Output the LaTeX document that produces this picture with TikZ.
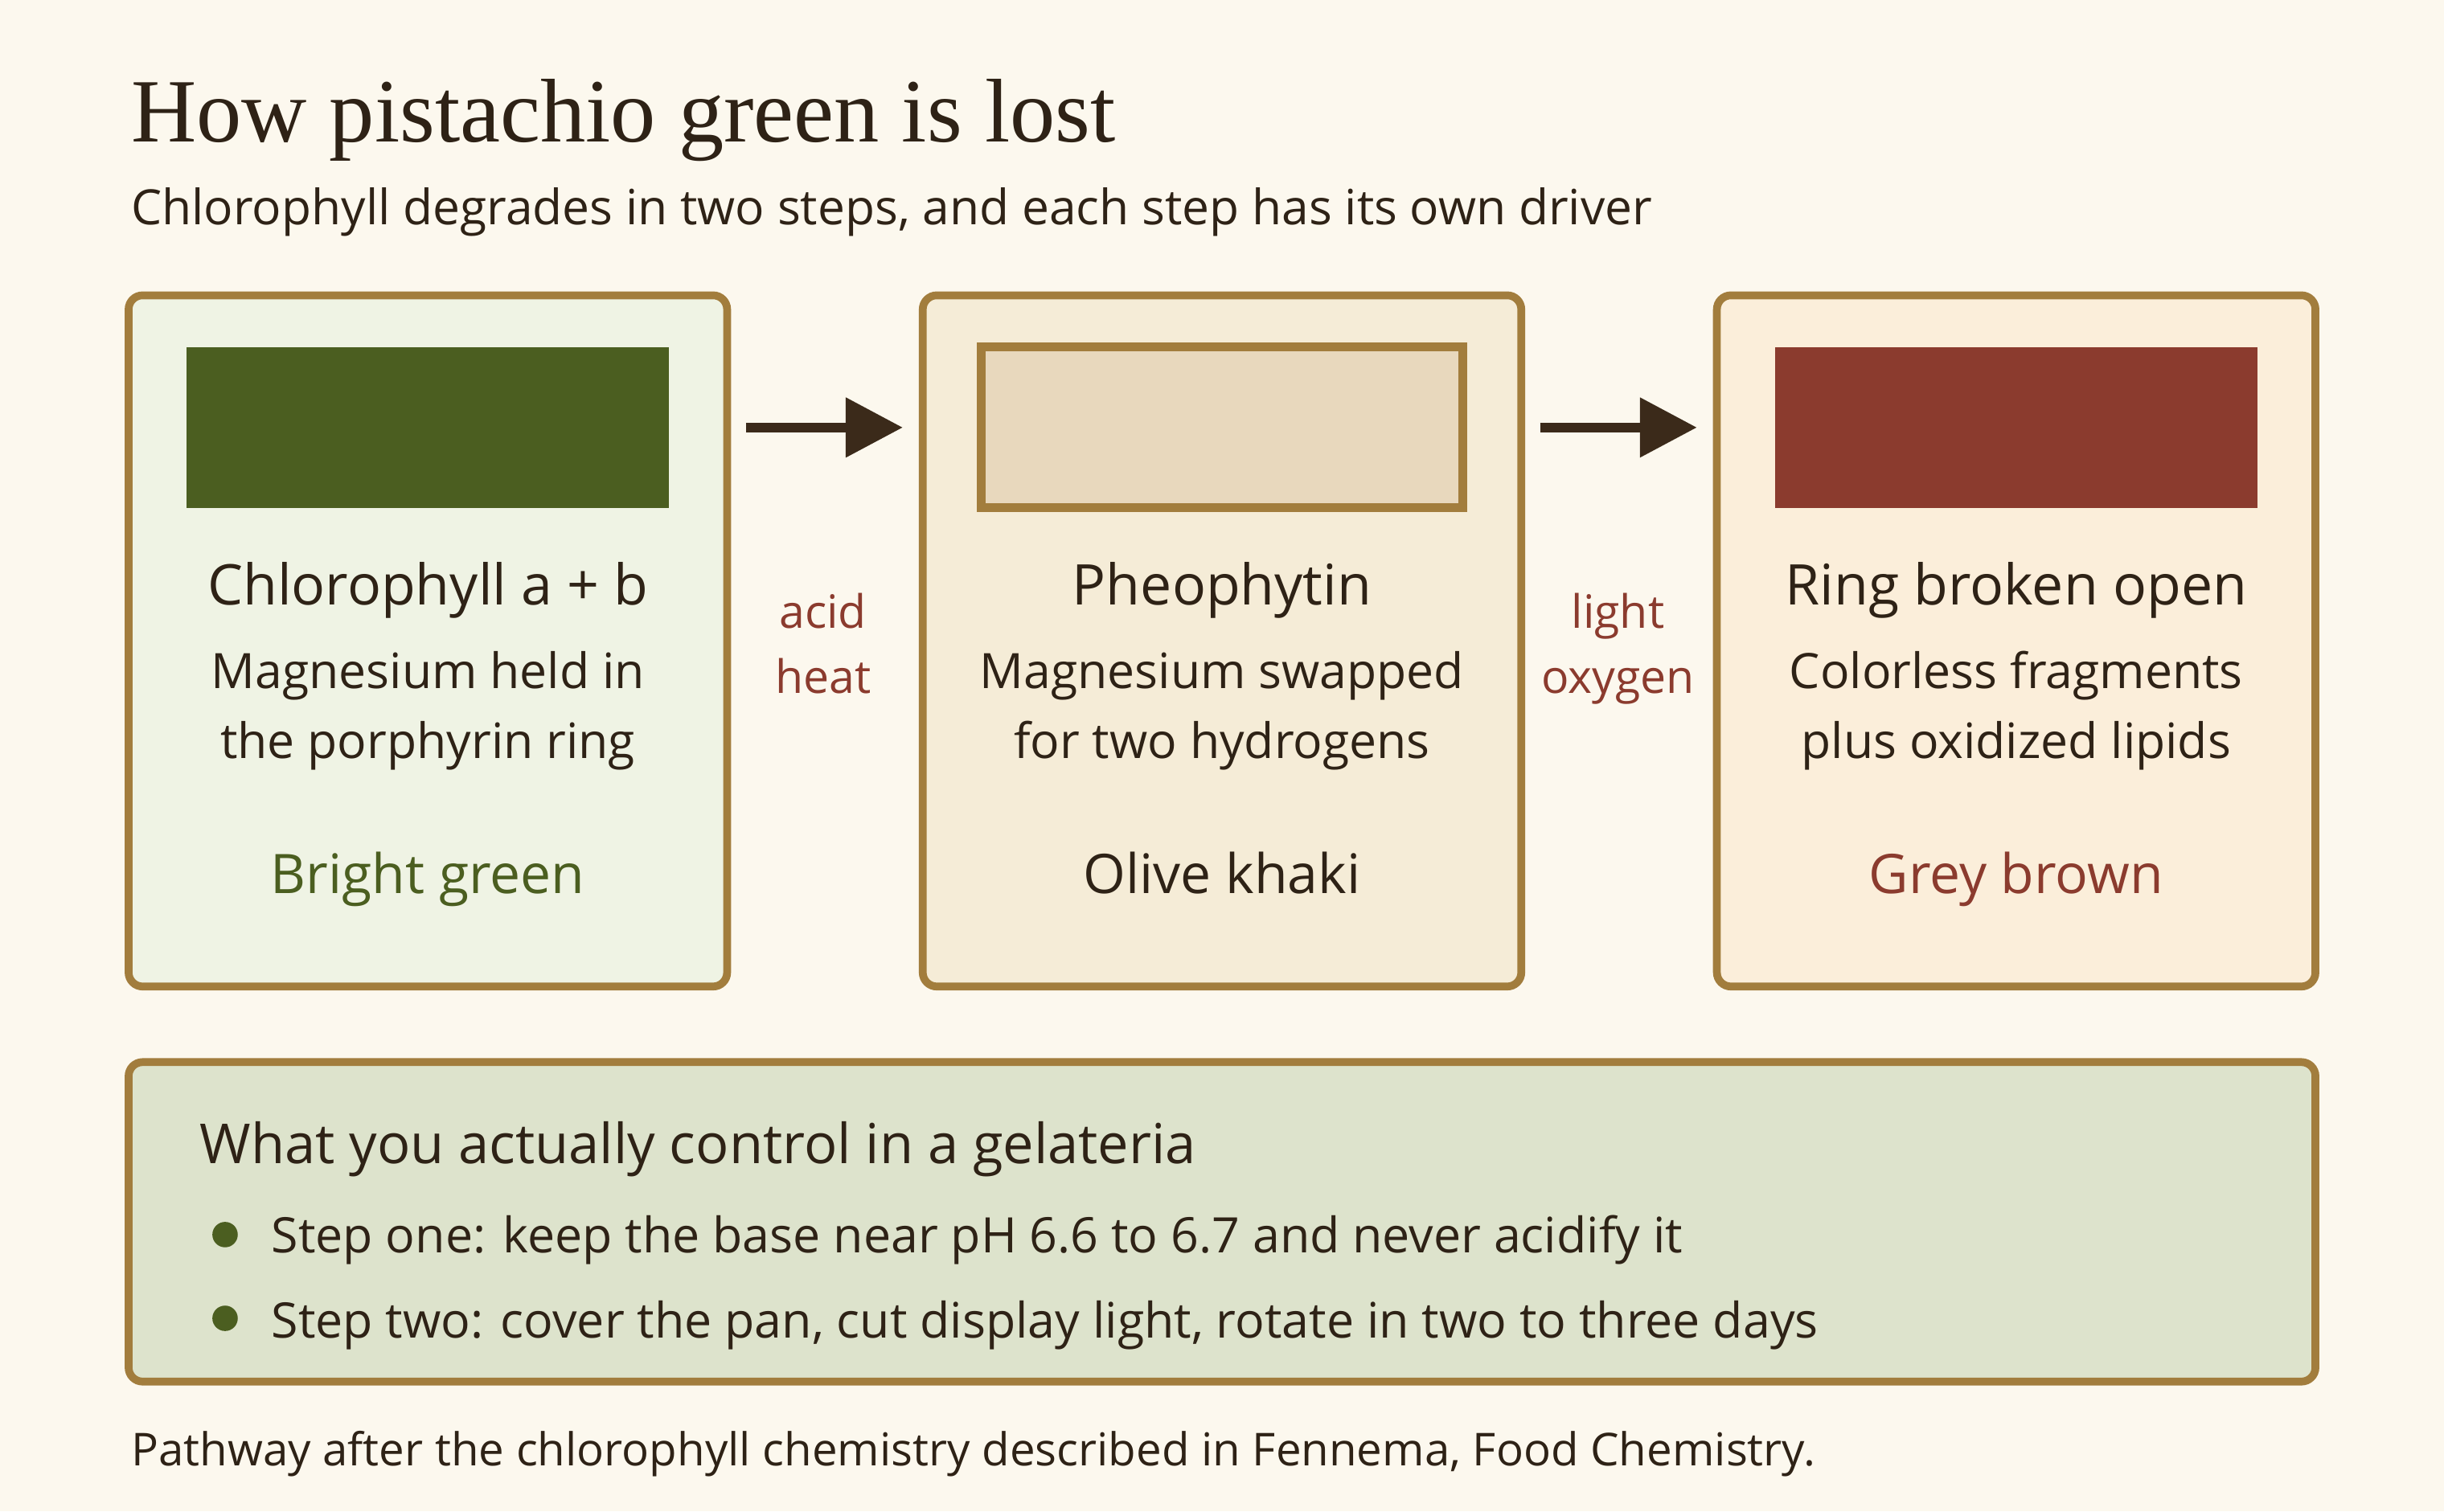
\documentclass[tikz,border=0pt]{standalone}
\usepackage{fontspec}
\setmainfont{Open Sans}
\newfontfamily\titlefont{Liberation Serif}
\usetikzlibrary{arrows.meta}
\definecolor{bgc}{HTML}{FCF8EE}
\definecolor{brd}{HTML}{A27D3D}
\definecolor{ink}{HTML}{2E2216}
\definecolor{grn}{HTML}{4B5E20}
\definecolor{rbr}{HTML}{8B3B2E}
\definecolor{fillA}{HTML}{EFF3E4}
\definecolor{fillB}{HTML}{F5ECD7}
\definecolor{fillC}{HTML}{FBEEDA}
\definecolor{fillD}{HTML}{DDE3CC}
\definecolor{swB}{HTML}{E8D8BD}
\definecolor{arrc}{HTML}{3B2A1A}
\begin{document}
\begin{tikzpicture}[x=1pt,y=-1pt,
  card/.style={draw=brd,line width=5pt,rounded corners=9pt,minimum width=384pt,minimum height=443.5pt,inner sep=0pt,outer sep=0pt,anchor=north west},
  swatch/.style={minimum width=309.5pt,minimum height=103pt,inner sep=0pt,outer sep=0pt,anchor=north},
  ctitle/.style={text=ink,font=\fontsize{36}{42}\selectfont,anchor=base},
  cbody/.style={text=ink,font=\fontsize{31.3}{36}\selectfont,anchor=base},
  clabel/.style={font=\fontsize{35}{40}\selectfont,anchor=base},
  alabel/.style={text=rbr,font=\fontsize{29.5}{34}\selectfont,anchor=base},
  arr/.style={draw=arrc,line width=6.2pt,-{Triangle[length=36.6pt,width=37pt]}},
  ltext/.style={text=ink,anchor=base west,inner sep=0pt},
  dot/.style={circle,fill=grn,minimum size=16.3pt,inner sep=0pt}
]
\fill[bgc] (0,0) rectangle (1568,969.7);
\useasboundingbox (0,0) rectangle (1568,969.7);

\node[ltext,font=\titlefont\fontsize{58}{66}\selectfont] (title) at (84,91) {How pistachio green is lost};
\node[ltext,font=\fontsize{31.2}{36}\selectfont] (sub) at (84,144.4) {Chlorophyll degrades in two steps, and each step has its own driver};

% cards
\node[card,fill=fillA] (c1) at (82.5,189.5) {};
\node[card,fill=fillB] (c2) at (592,189.5) {};
\node[card,fill=fillC] (c3) at (1101.5,189.5) {};

\node[swatch,fill=grn] (s1) at (274.5,222.8) {};
\node[swatch,fill=swB,draw=brd,line width=5.5pt,minimum width=309pt,minimum height=103pt] (s2) at (784,222.6) {};
\node[swatch,fill=rbr] (s3) at (1293.5,222.8) {};

\node[ctitle] (t1) at (274.5,388) {Chlorophyll a + b};
\node[cbody] (b1a) at (274.5,442) {Magnesium held in};
\node[cbody] (b1b) at (274.5,486.5) {the porphyrin ring};
\node[clabel,text=grn] (l1) at (274.5,573.5) {Bright green};

\node[ctitle] (t2) at (784,388) {Pheophytin};
\node[cbody] (b2a) at (784,442) {Magnesium swapped};
\node[cbody] (b2b) at (784,486.5) {for two hydrogens};
\node[clabel,text=ink] (l2) at (784,573.5) {Olive khaki};

\node[ctitle] (t3) at (1293.5,388) {Ring broken open};
\node[cbody] (b3a) at (1293.5,442) {Colorless fragments};
\node[cbody] (b3b) at (1293.5,486.5) {plus oxidized lipids};
\node[clabel,text=rbr] (l3) at (1293.5,573.5) {Grey brown};

% arrows
\draw[arr,shorten <=12.1pt,shorten >=12.8pt] (c1.east|-s1.center) -- (c2.west|-s1.center);
\draw[arr,shorten <=12.1pt,shorten >=12.8pt] (c2.east|-s1.center) -- (c3.west|-s1.center);
\node[alabel] (a1) at (528,403) {acid};
\node[alabel] (a2) at (528,445) {heat};
\node[alabel] (a3) at (1038,403) {light};
\node[alabel] (a4) at (1038,445) {oxygen};

% bottom box
\node[draw=brd,fill=fillD,line width=5pt,rounded corners=9pt,minimum width=1403pt,minimum height=205pt,inner sep=0pt,outer sep=0pt,anchor=north west] (bot) at (82.5,681.5) {};
\node[ltext,font=\fontsize{35.4}{40}\selectfont] (bh) at (128,746.4) {What you actually control in a gelateria};
\node[dot] (d1) at (144.4,792.2) {};
\node[ltext,font=\fontsize{31.4}{36}\selectfont] (bl1) at (174,804.1) {Step one: keep the base near pH 6.6 to 6.7 and never acidify it};
\node[dot] (d2) at (144.4,845.9) {};
\node[ltext,font=\fontsize{31.4}{36}\selectfont] (bl2) at (174,858.4) {Step two: cover the pan, cut display light, rotate in two to three days};

\node[ltext,font=\fontsize{29.1}{34}\selectfont] (foot) at (84,940.4) {Pathway after the chlorophyll chemistry described in Fennema, Food Chemistry.};
\end{tikzpicture}
\end{document}
